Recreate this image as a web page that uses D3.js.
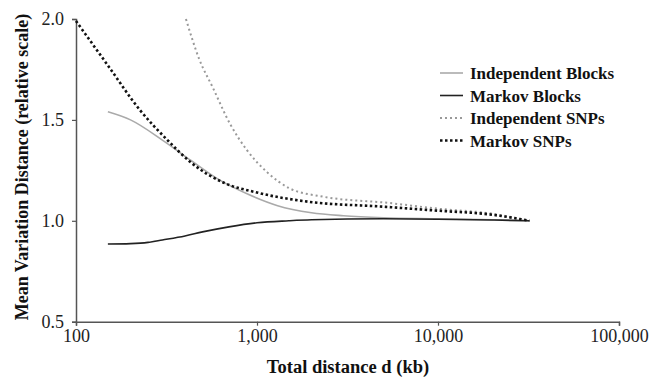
<!DOCTYPE html>
<html>
<head>
<meta charset="utf-8">
<script src="https://cdn.jsdelivr.net/npm/d3@7"></script>
<style>
  html, body { margin: 0; padding: 0; background: #fff; }
  svg { display: block; }
  text { font-family: "Liberation Serif", "Times New Roman", serif; }
</style>
</head>
<body>
<svg id="chart" width="660" height="377"></svg>
<script>
// Total distance d (kb) and mean variation distance for each model
const indBlocksX = [150, 200, 300, 430, 600, 900, 1300, 2000, 3000, 5000, 10000, 20000, 32000];
const indBlocksY = [1.54, 1.50, 1.40, 1.30, 1.21, 1.13, 1.075, 1.04, 1.025, 1.015, 1.01, 1.005, 1.0];

const markovBlocksX = [150, 200, 250, 300, 400, 500, 700, 1000, 1500, 2000, 5000, 10000, 20000, 32000];
const markovBlocksY = [0.885, 0.887, 0.893, 0.905, 0.925, 0.945, 0.97, 0.99, 1.0, 1.005, 1.01, 1.008, 1.004, 1.0];

const indSnpsX = [405, 480, 570, 710, 880, 1140, 1520, 2300, 5400, 10000, 20000, 32000];
const indSnpsY = [2.0, 1.80, 1.66, 1.48, 1.35, 1.24, 1.16, 1.12, 1.088, 1.06, 1.035, 1.0];

const markovSnpsX = [100, 150, 225, 320, 430, 650, 1000, 1900, 5000, 10000, 20000, 32000];
const markovSnpsY = [1.99, 1.77, 1.55, 1.40, 1.29, 1.19, 1.14, 1.095, 1.07, 1.05, 1.03, 1.0];

const xTicks = [100, 1000, 10000, 100000];
const yTicks = [0.5, 1.0, 1.5, 2.0];

const seriesNames = ["Independent Blocks", "Markov Blocks", "Independent SNPs", "Markov SNPs"];

const svg = d3.select("#chart");
const plotLeft = 76, plotRight = 619, plotTop = 19, plotBottom = 321.7;

const x = d3.scaleLog().domain([100, 100000]).range([plotLeft, plotRight]);
const y = d3.scaleLinear().domain([0.5, 2.0]).range([plotBottom, plotTop]);

const axisColor = "#555";

// X axis
const xAxis = svg.append("g")
  .attr("transform", `translate(0,${plotBottom})`)
  .call(d3.axisBottom(x).tickValues(xTicks).tickSize(4).tickPadding(4)
    .tickFormat(d3.format(",")));
xAxis.select(".domain").attr("stroke", axisColor).attr("stroke-width", 1.5);
xAxis.selectAll(".tick line").attr("stroke", axisColor).attr("stroke-width", 1.2);
xAxis.selectAll(".tick text").attr("font-size", 18).attr("fill", "#222")
  .style("font-family", "Liberation Serif, serif");

// Y axis
const yAxis = svg.append("g")
  .attr("transform", `translate(${plotLeft},0)`)
  .call(d3.axisLeft(y).tickValues(yTicks).tickSize(4).tickPadding(8)
    .tickFormat(d3.format(".1f")));
yAxis.select(".domain").attr("stroke", axisColor).attr("stroke-width", 1.5);
yAxis.selectAll(".tick line").attr("stroke", axisColor).attr("stroke-width", 1.2);
yAxis.selectAll(".tick text").attr("font-size", 18).attr("fill", "#222")
  .style("font-family", "Liberation Serif, serif");

// Axis titles
svg.append("text")
  .attr("x", 348).attr("y", 373)
  .attr("text-anchor", "middle")
  .attr("font-size", 18.5).attr("font-weight", "bold").attr("fill", "#111")
  .text("Total distance d (kb)");

svg.append("text")
  .attr("transform", "translate(28,167) rotate(-90)")
  .attr("text-anchor", "middle")
  .attr("font-size", 18).attr("font-weight", "bold").attr("fill", "#111")
  .text("Mean Variation Distance (relative scale)");

// Curves
const styles = [
  { xs: indBlocksX, ys: indBlocksY, color: "#aaa", width: 1.6, dash: null },
  { xs: markovBlocksX, ys: markovBlocksY, color: "#222", width: 1.6, dash: null },
  { xs: indSnpsX, ys: indSnpsY, color: "#999", width: 2, dash: "2,3" },
  { xs: markovSnpsX, ys: markovSnpsY, color: "#111", width: 2.6, dash: "2.5,2.5" }
];

const line = d3.line()
  .x(d => x(d[0]))
  .y(d => y(d[1]))
  .curve(d3.curveMonotoneX);

styles.forEach(s => {
  const pts = s.xs.map((v, i) => [v, s.ys[i]]);
  svg.append("path")
    .datum(pts)
    .attr("d", line)
    .attr("fill", "none")
    .attr("stroke", s.color)
    .attr("stroke-width", s.width)
    .attr("stroke-dasharray", s.dash);
});

// Legend
const legend = svg.append("g");
seriesNames.forEach((name, i) => {
  const cy = 73 + i * 22.5;
  const s = styles[i];
  legend.append("line")
    .attr("x1", 440).attr("x2", 463)
    .attr("y1", cy).attr("y2", cy)
    .attr("stroke", s.color)
    .attr("stroke-width", s.width)
    .attr("stroke-dasharray", s.dash);
  legend.append("text")
    .attr("x", 470).attr("y", cy + 6)
    .attr("font-size", 17).attr("font-weight", "bold").attr("fill", "#111")
    .text(name);
});
</script>
</body>
</html>
